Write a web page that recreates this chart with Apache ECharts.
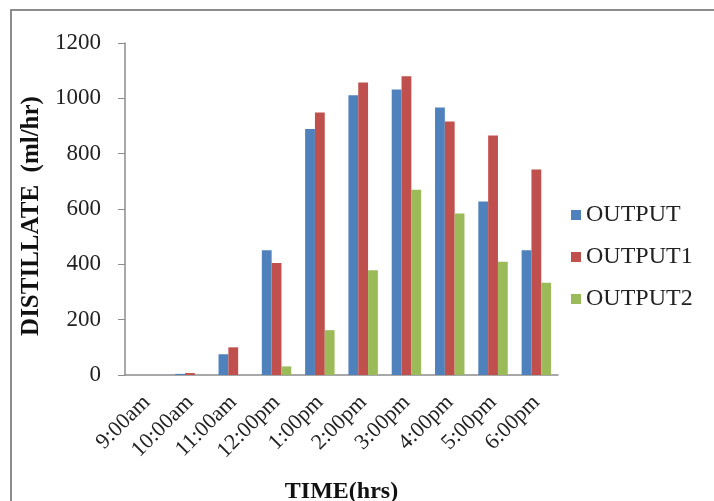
<!DOCTYPE html>
<html>
<head>
<meta charset="utf-8">
<script src="https://cdn.jsdelivr.net/npm/echarts@6/dist/echarts.min.js"></script>
<style>
  html, body { margin: 0; padding: 0; background: #fff; }
  #chart { width: 714px; height: 501px; }
</style>
</head>
<body>
<div id="chart"></div>
<script>
// time of day
var hours = ['9:00am', '10:00am', '11:00am', '12:00pm', '1:00pm', '2:00pm', '3:00pm', '4:00pm', '5:00pm', '6:00pm'];
// distillate, ml/hr
var output  = [0, 4, 75, 451, 889, 1011, 1032, 967, 627, 451];
var output1 = [0, 7, 100, 405, 949, 1057, 1080, 916, 866, 743];
var output2 = [0, 0, 0, 31, 162, 379, 670, 584, 409, 333];
var yTicks = [0, 200, 400, 600, 800, 1000, 1200];

var serif = 'Liberation Serif';
var chart = echarts.init(document.getElementById('chart'));

var option = {
  animation: false,
  color: ['#4F81BD', '#C0504D', '#9BBB59'],
  textStyle: { fontFamily: serif },
  graphic: [{
    type: 'rect',
    shape: { x: 11, y: 10, width: 720, height: 500 },
    style: { fill: 'none', stroke: '#8c8c8c', lineWidth: 2 },
    silent: true
  }],
  grid: { left: 125, right: 156, top: 43, bottom: 126, outerBoundsMode: 'none' },
  legend: {
    orient: 'vertical',
    left: 566,
    top: 198,
    itemWidth: 10,
    itemHeight: 10,
    itemGap: 18,
    icon: 'rect',
    textStyle: { fontFamily: serif, fontSize: 24, color: '#222' },
    data: ['OUTPUT', 'OUTPUT1', 'OUTPUT2']
  },
  xAxis: {
    type: 'category',
    data: hours,
    name: 'TIME(hrs)',
    nameLocation: 'middle',
    nameGap: 105,
    nameTextStyle: { fontFamily: serif, fontSize: 24, fontWeight: 'bold', color: '#111' },
    axisLine: { lineStyle: { color: '#8c8c8c', width: 1.5 } },
    axisTick: { show: false },
    axisLabel: { rotate: 45, margin: 24, fontFamily: serif, fontSize: 22, color: '#222', interval: 0 }
  },
  yAxis: {
    type: 'value',
    min: yTicks[0],
    max: yTicks[yTicks.length - 1],
    interval: 200,
    name: 'DISTILLATE  (ml/hr)',
    nameLocation: 'middle',
    nameGap: 80,
    nameRotate: 90,
    nameTextStyle: { fontFamily: serif, fontSize: 25, fontWeight: 'bold', color: '#111', padding: [0, 14, 0, 0] },
    splitLine: { show: false },
    axisLine: { show: true, lineStyle: { color: '#8c8c8c', width: 1.5 } },
    axisTick: { show: true, length: 7, lineStyle: { color: '#8c8c8c' } },
    axisLabel: {
      margin: 24,
      fontFamily: serif,
      fontSize: 23,
      color: '#222',
      formatter: function (v) { return String(v); }
    }
  },
  series: [
    { name: 'OUTPUT',  type: 'bar', data: output,  barGap: '0%', barCategoryGap: '32%' },
    { name: 'OUTPUT1', type: 'bar', data: output1, barGap: '0%', barCategoryGap: '32%' },
    { name: 'OUTPUT2', type: 'bar', data: output2, barGap: '0%', barCategoryGap: '32%' }
  ]
};

chart.setOption(option);
</script>
</body>
</html>
